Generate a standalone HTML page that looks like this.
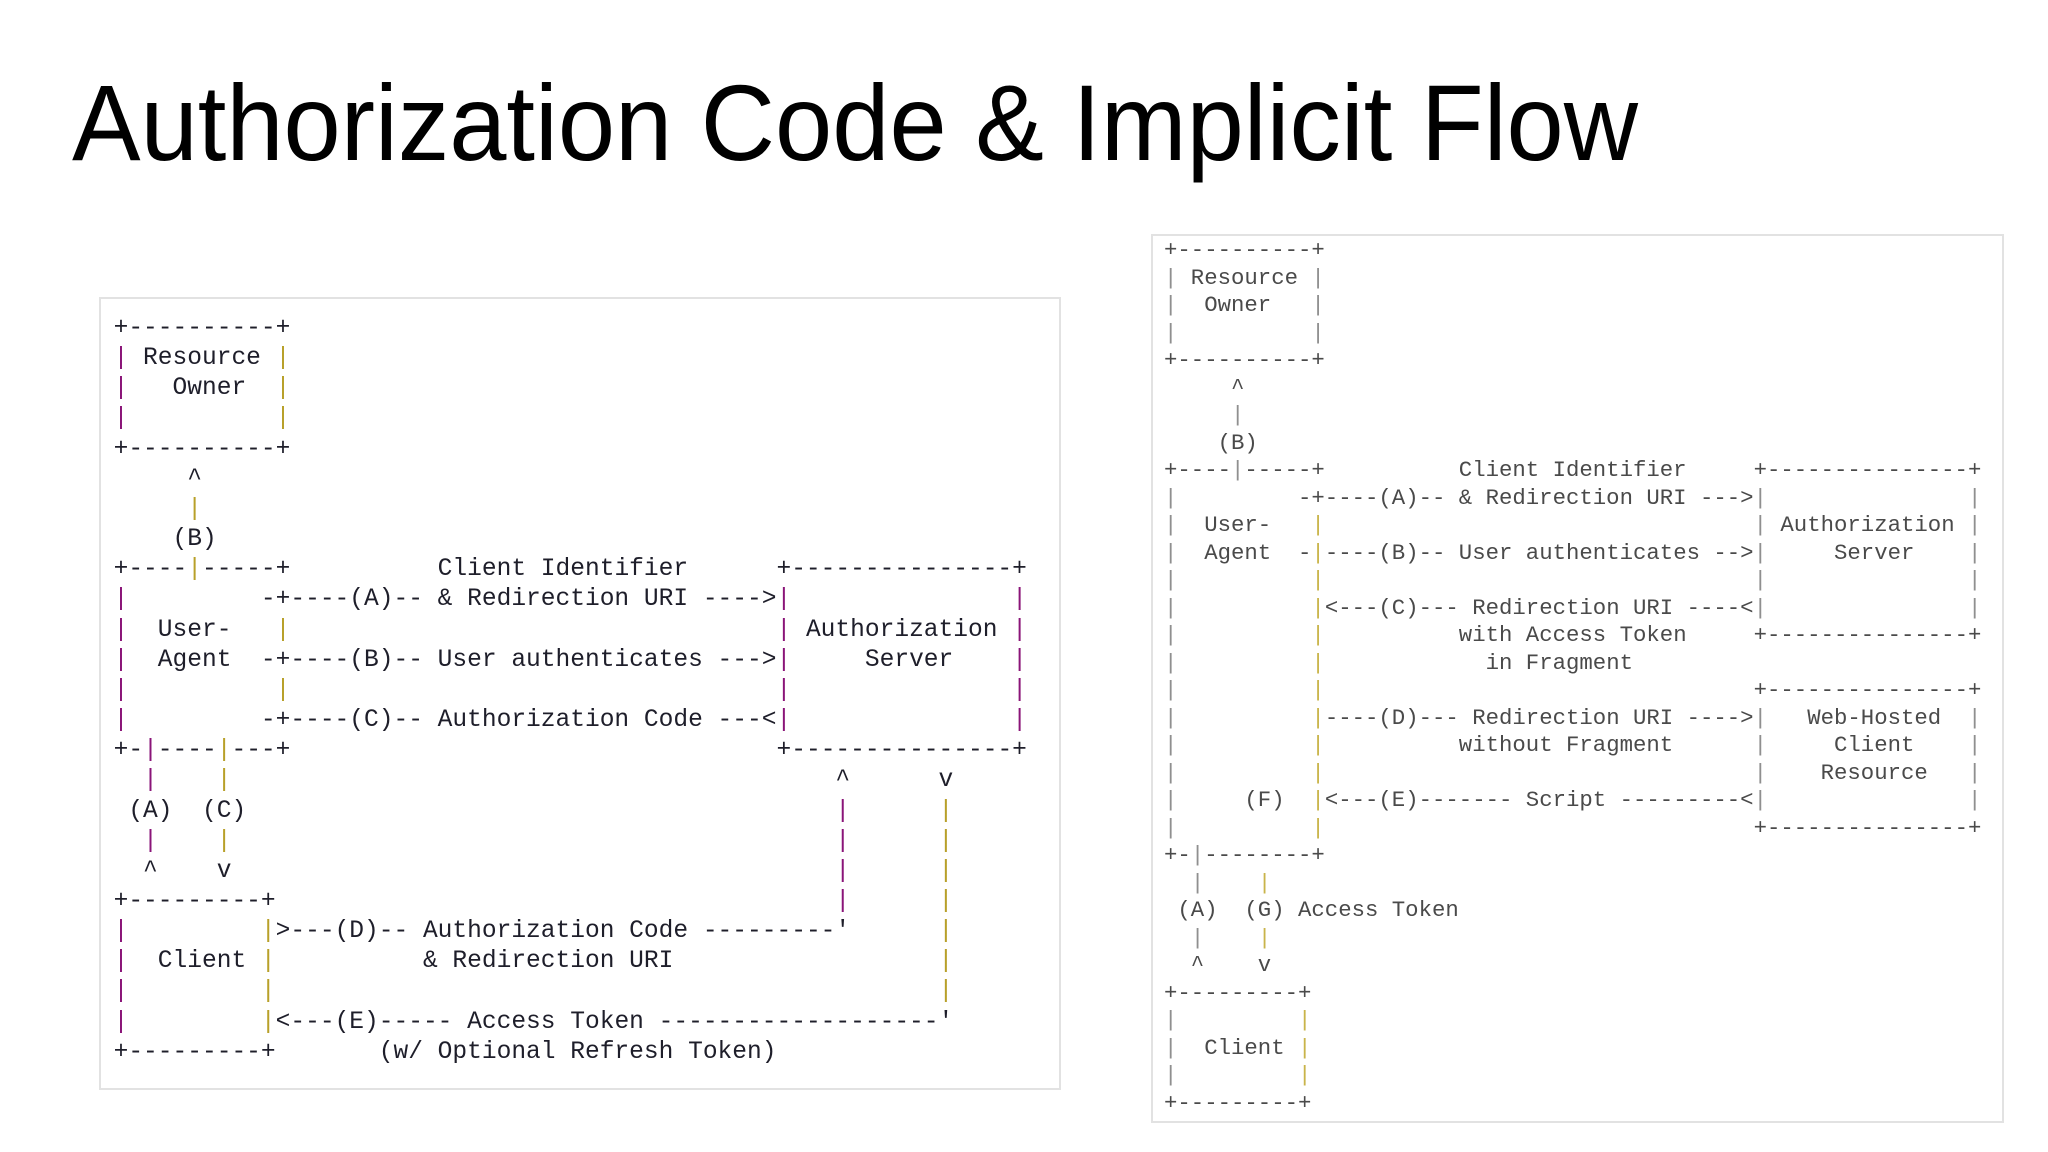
<!DOCTYPE html>
<html><head><meta charset="utf-8"><style>
html,body{margin:0;padding:0;background:#fff;}
body{width:2048px;height:1152px;position:relative;overflow:hidden;}
.panel{position:absolute;border:2px solid #e2e2e2;background:#fff;box-sizing:border-box;}
pre{position:absolute;margin:0;font-family:"Liberation Mono",monospace;white-space:pre;}
#L{left:113.6px;top:314px;font-size:24.56px;line-height:30.15px;color:#1e1e2a;}
#R{left:1164px;top:237px;font-size:22.33px;line-height:27.5px;color:#4a4a4a;}
b{font-weight:normal;}
.m{color:#8a1478;}
.o{color:#b8a02a;}
.g{color:#8f8f8f;}
.y{color:#c9b44a;}
</style></head><body>
<svg style="position:absolute;left:0;top:0" width="2048" height="260">
<text x="72" y="160" font-family="Liberation Sans, sans-serif" font-size="108" fill="#000" textLength="1566" lengthAdjust="spacingAndGlyphs">Authorization Code &amp; Implicit Flow</text>
</svg>
<div class="panel" style="left:99px;top:297px;width:962px;height:793px"></div>
<div class="panel" style="left:1151px;top:234px;width:853px;height:889px"></div>
<pre id="L">+----------+
<b class="m">|</b> Resource <b class="o">|</b>
<b class="m">|</b>   Owner  <b class="o">|</b>
<b class="m">|</b>          <b class="o">|</b>
+----------+
     ^
     <b class="o">|</b>
    (B)
+----<b class="o">|</b>-----+          Client Identifier      +---------------+
<b class="m">|</b>         -+----(A)-- &amp; Redirection URI ----&gt;<b class="m">|</b>               <b class="m">|</b>
<b class="m">|</b>  User-   <b class="o">|</b>                                 <b class="m">|</b> Authorization <b class="m">|</b>
<b class="m">|</b>  Agent  -+----(B)-- User authenticates ---&gt;<b class="m">|</b>     Server    <b class="m">|</b>
<b class="m">|</b>          <b class="o">|</b>                                 <b class="m">|</b>               <b class="m">|</b>
<b class="m">|</b>         -+----(C)-- Authorization Code ---&lt;<b class="m">|</b>               <b class="m">|</b>
+-<b class="m">|</b>----<b class="o">|</b>---+                                 +---------------+
  <b class="m">|</b>    <b class="o">|</b>                                         ^      v
 (A)  (C)                                        <b class="m">|</b>      <b class="o">|</b>
  <b class="m">|</b>    <b class="o">|</b>                                         <b class="m">|</b>      <b class="o">|</b>
  ^    v                                         <b class="m">|</b>      <b class="o">|</b>
+---------+                                      <b class="m">|</b>      <b class="o">|</b>
<b class="m">|</b>         <b class="o">|</b>&gt;---(D)-- Authorization Code ---------'      <b class="o">|</b>
<b class="m">|</b>  Client <b class="o">|</b>          &amp; Redirection URI                  <b class="o">|</b>
<b class="m">|</b>         <b class="o">|</b>                                             <b class="o">|</b>
<b class="m">|</b>         <b class="o">|</b>&lt;---(E)----- Access Token -------------------'
+---------+       (w/ Optional Refresh Token)</pre>
<pre id="R">+----------+
<b class="g">|</b> Resource <b class="g">|</b>
<b class="g">|</b>  Owner   <b class="g">|</b>
<b class="g">|</b>          <b class="g">|</b>
+----------+
     ^
     <b class="g">|</b>
    (B)
+----<b class="g">|</b>-----+          Client Identifier     +---------------+
<b class="g">|</b>         -+----(A)-- &amp; Redirection URI ---&gt;<b class="g">|</b>               <b class="g">|</b>
<b class="g">|</b>  User-   <b class="y">|</b>                                <b class="g">|</b> Authorization <b class="g">|</b>
<b class="g">|</b>  Agent  -<b class="y">|</b>----(B)-- User authenticates --&gt;<b class="g">|</b>     Server    <b class="g">|</b>
<b class="g">|</b>          <b class="y">|</b>                                <b class="g">|</b>               <b class="g">|</b>
<b class="g">|</b>          <b class="y">|</b>&lt;---(C)--- Redirection URI ----&lt;<b class="g">|</b>               <b class="g">|</b>
<b class="g">|</b>          <b class="y">|</b>          with Access Token     +---------------+
<b class="g">|</b>          <b class="y">|</b>            in Fragment
<b class="g">|</b>          <b class="y">|</b>                                +---------------+
<b class="g">|</b>          <b class="y">|</b>----(D)--- Redirection URI ----&gt;<b class="g">|</b>   Web-Hosted  <b class="g">|</b>
<b class="g">|</b>          <b class="y">|</b>          without Fragment      <b class="g">|</b>     Client    <b class="g">|</b>
<b class="g">|</b>          <b class="y">|</b>                                <b class="g">|</b>    Resource   <b class="g">|</b>
<b class="g">|</b>     (F)  <b class="y">|</b>&lt;---(E)------- Script ---------&lt;<b class="g">|</b>               <b class="g">|</b>
<b class="g">|</b>          <b class="y">|</b>                                +---------------+
+-<b class="g">|</b>--------+
  <b class="g">|</b>    <b class="y">|</b>
 (A)  (G) Access Token
  <b class="g">|</b>    <b class="y">|</b>
  ^    v
+---------+
<b class="g">|</b>         <b class="y">|</b>
<b class="g">|</b>  Client <b class="y">|</b>
<b class="g">|</b>         <b class="y">|</b>
+---------+</pre>
</body></html>
